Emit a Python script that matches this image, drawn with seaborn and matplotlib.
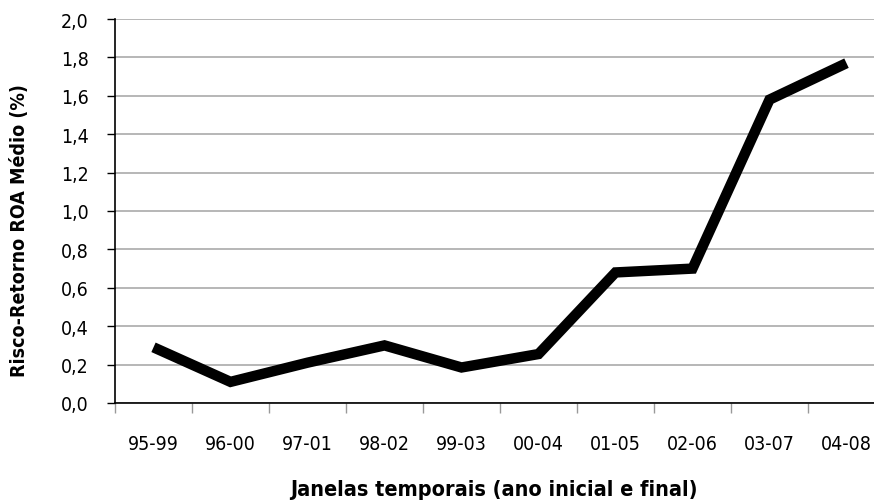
import numpy as np
import pandas as pd
import matplotlib.pyplot as plt
import seaborn as sns
from matplotlib import font_manager
from matplotlib.ticker import FuncFormatter, FixedLocator

# Dados
janelas = ["95-99", "96-00", "97-01", "98-02", "99-03", "00-04", "01-05", "02-06", "03-07", "04-08"]
risco_retorno = [0.29, 0.11, 0.21, 0.30, 0.185, 0.255, 0.68, 0.70, 1.58, 1.77]

df = pd.DataFrame({"janela": janelas, "valor": risco_retorno})
df["pos"] = np.arange(len(janelas))

sns.set_style("white")

# procurar uma fonte estreita (condensed / narrow)
fontes = font_manager.fontManager.ttflist
estreitas = [f for f in fontes if "Narrow" in f.name or "Condensed" in f.name
             or (f.stretch in ("condensed", 500) and f.name == "DejaVu Sans")]
fam = [f.name for f in estreitas][:1] + ["DejaVu Sans"]
plt.rcParams["font.family"] = fam
if estreitas and estreitas[0].name == "DejaVu Sans":
    plt.rcParams["font.stretch"] = "condensed"
plt.rcParams["text.color"] = "black"
plt.rcParams["axes.labelcolor"] = "black"
plt.rcParams["xtick.color"] = "black"
plt.rcParams["ytick.color"] = "black"

fig = plt.figure(figsize=(8.74, 5.02), dpi=100)
ax = fig.add_axes([115 / 874, 1 - 404 / 502, 770 / 874, 384 / 502])

sns.lineplot(data=df, x="pos", y="valor", color="black", linewidth=7.5, ax=ax,
             solid_joinstyle="miter", solid_capstyle="butt")

ax.set_xlim(-0.5, 9.5)
ax.set_ylim(0, 2.0)
ax.set_yticks(np.arange(0, 2.01, 0.2))
ax.yaxis.set_major_formatter(FuncFormatter(lambda v, p: f"{v:.1f}".replace(".", ",")))
ax.set_xticks(df["pos"])
ax.set_xticklabels(janelas)
ax.xaxis.set_minor_locator(FixedLocator(np.arange(-0.5, 9.6, 1)))
ax.tick_params(bottom=True, left=True, which="both")
ax.tick_params(axis="x", which="major", length=0, pad=22, labelsize=14)
ax.tick_params(axis="x", which="minor", length=7, width=1, color="#999999", direction="out")
ax.tick_params(axis="y", length=6, width=1, color="black", direction="out", pad=13, labelsize=14)

ax.grid(axis="y", color="#aaaaaa", linewidth=1.2)
ax.set_axisbelow(True)
for s in ["top", "right"]:
    ax.spines[s].set_visible(False)
ax.spines["left"].set_color("black")
ax.spines["bottom"].set_color("black")
ax.spines["left"].set_linewidth(1.2)
ax.spines["bottom"].set_linewidth(1.2)

ax.set_xlabel("Janelas temporais (ano inicial e final)", fontsize=15.5, fontweight="bold")
ax.set_ylabel("Risco-Retorno ROA Médio (%)", fontsize=14, fontweight="bold")
ax.xaxis.set_label_coords((494 - 115) / 770, (404 - 490) / 384)
ax.yaxis.set_label_coords((20 - 115) / 770, (404 - 231) / 384)
ax.xaxis.label.set_va("center")
ax.yaxis.label.set_va("center")

fig.savefig("out.png", dpi=100)
